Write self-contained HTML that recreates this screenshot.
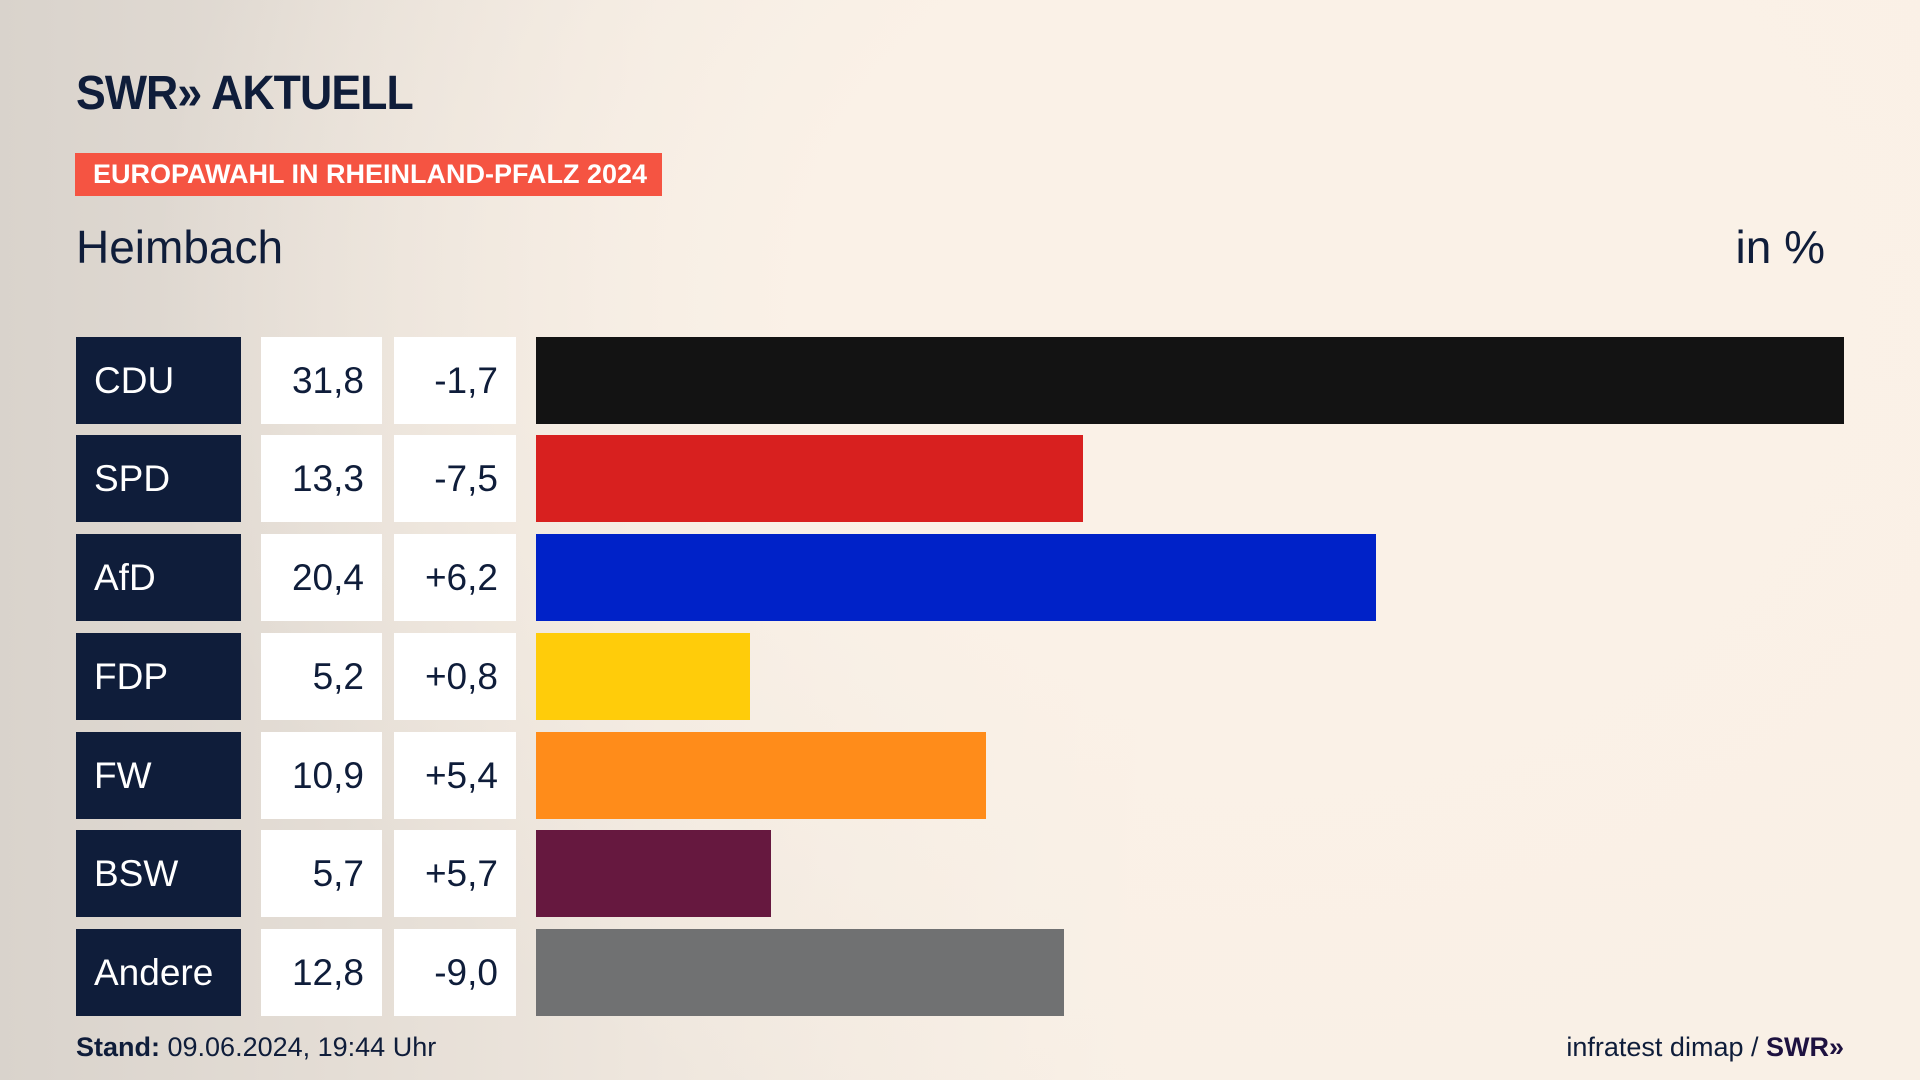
<!DOCTYPE html>
<html><head><meta charset="utf-8"><style>
body{margin:0;width:1920px;height:1080px;overflow:hidden;font-family:"Liberation Sans",sans-serif;
background:radial-gradient(ellipse 1100px 900px at 1250px 300px,#faf1e7 40%,rgba(250,241,231,0) 100%),linear-gradient(90deg,#d9d3cc 0%,#efe7de 35%,#f9f0e6 60%);position:relative}
.a{position:absolute}
.logo{left:76px;top:66px;font-weight:bold;font-size:48px;color:#0f1d3a;letter-spacing:-1px;transform:scaleX(0.93);transform-origin:0 0}
.tag{left:75px;top:153px;width:587px;height:43px;background:#f55442;color:#fff;font-weight:bold;font-size:27px;line-height:43px;text-indent:18px}
.h{top:220px;font-size:46px;color:#0f1d3a}
.row{position:absolute;left:0;height:87px}
.p{position:absolute;left:76px;width:165px;height:87px;background:#0f1d3a;color:#fff;font-size:37px;line-height:87px;text-indent:18px}
.v,.d{position:absolute;height:87px;background:#fff;color:#0f1d3a;font-size:37px;line-height:87px;text-align:right;box-sizing:border-box;padding-right:18px}
.v{left:261px;width:121px}.d{left:394px;width:122px}
.b{position:absolute;left:536px;height:87px}
.f{top:1032px;font-size:27px;color:#0f1d3a}
</style></head><body>
<div class="a logo">SWR&#187; AKTUELL</div>
<div class="a tag">EUROPAWAHL IN RHEINLAND-PFALZ 2024</div>
<div class="a h" style="left:76px">Heimbach</div>
<div class="a h" style="right:95px">in %</div>

<div class="row" style="top:337px"><div class="p">CDU</div><div class="v">31,8</div><div class="d">-1,7</div><div class="b" style="width:1308px;background:#131313"></div></div>
<div class="row" style="top:435px"><div class="p">SPD</div><div class="v">13,3</div><div class="d">-7,5</div><div class="b" style="width:547px;background:#d8201f"></div></div>
<div class="row" style="top:534px"><div class="p">AfD</div><div class="v">20,4</div><div class="d">+6,2</div><div class="b" style="width:840px;background:#0022c8"></div></div>
<div class="row" style="top:633px"><div class="p">FDP</div><div class="v">5,2</div><div class="d">+0,8</div><div class="b" style="width:214px;background:#ffcc0a"></div></div>
<div class="row" style="top:732px"><div class="p">FW</div><div class="v">10,9</div><div class="d">+5,4</div><div class="b" style="width:450px;background:#ff8c1a"></div></div>
<div class="row" style="top:830px"><div class="p">BSW</div><div class="v">5,7</div><div class="d">+5,7</div><div class="b" style="width:235px;background:#66183f"></div></div>
<div class="row" style="top:929px"><div class="p">Andere</div><div class="v">12,8</div><div class="d">-9,0</div><div class="b" style="width:528px;background:#707172"></div></div>

<div class="a f" style="left:76px"><b>Stand:</b> 09.06.2024, 19:44 Uhr</div>
<div class="a f" style="right:76px">infratest dimap / <b style="color:#1e1240">SWR&#187;</b></div>
</body></html>
